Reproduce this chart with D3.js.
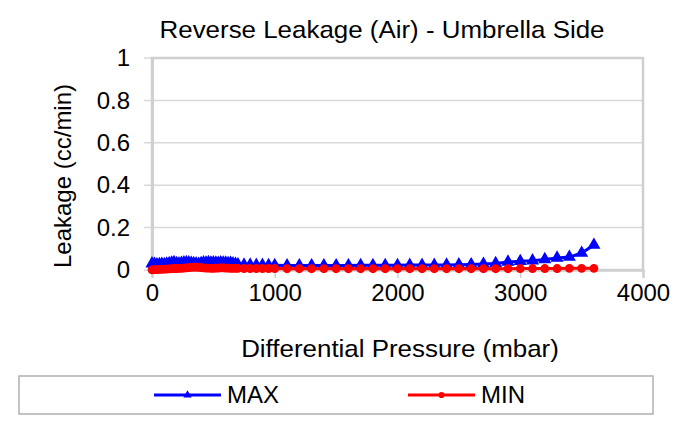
<!DOCTYPE html>
<html>
<head>
<meta charset="utf-8">
<script src="https://cdn.jsdelivr.net/npm/d3@7"></script>
<style>
  body { margin: 0; background: #fff; }
  text { font-family: "Liberation Sans", Arial, sans-serif; fill: #000; }
</style>
</head>
<body>
<div class="chart"></div>
<script>
// pressure steps (mbar): dense 0-700, then 50 up to 1000, then 100 up to 3600
const densePressure = d3.range(0, 701, 20);
const midPressure = [750, 800, 850, 900, 950, 1000];
const sparsePressure = d3.range(1100, 3601, 100);
const pressure = densePressure.concat(midPressure, sparsePressure);

const maxLeak = [
  0.030, 0.028, 0.026, 0.027, 0.028, 0.027, 0.029, 0.031, 0.034, 0.036,
  0.032, 0.030, 0.033, 0.035, 0.036, 0.035, 0.033, 0.031, 0.030, 0.028,
  0.032, 0.035, 0.034, 0.036, 0.034, 0.035, 0.034, 0.033, 0.035, 0.034,
  0.034, 0.032, 0.033, 0.030, 0.028, 0.026,
  0.024, 0.024, 0.023, 0.023, 0.022, 0.022,
  0.021, 0.021, 0.021, 0.021, 0.021, 0.021, 0.022, 0.022, 0.022, 0.022,
  0.023, 0.023, 0.023, 0.024, 0.025, 0.026,
  0.028, 0.031, 0.038, 0.041, 0.044, 0.050, 0.057, 0.061, 0.080, 0.118
];

const minLeak = [
  0.001, 0.002, 0.002, 0.003, 0.003, 0.004, 0.004, 0.005, 0.006, 0.007,
  0.007, 0.008, 0.008, 0.009, 0.010, 0.011, 0.012, 0.013, 0.013, 0.012,
  0.011, 0.010, 0.009, 0.009, 0.008, 0.008, 0.009, 0.009, 0.010, 0.010,
  0.009, 0.009, 0.008, 0.008, 0.008, 0.008,
  0.007, 0.007, 0.007, 0.007, 0.007, 0.007,
  0.006, 0.006, 0.006, 0.006, 0.006, 0.006, 0.006, 0.006, 0.006, 0.006,
  0.006, 0.006, 0.006, 0.006, 0.006, 0.006,
  0.006, 0.006, 0.006, 0.007, 0.007, 0.007, 0.007, 0.008, 0.008, 0.008
];

const xTicks = [0, 1000, 2000, 3000, 4000];
const yTicks = [0, 0.2, 0.4, 0.6, 0.8, 1];

const series = [
  { name: 'MAX', color: '#0000ff', shape: d3.symbolTriangle, size: 48, values: maxLeak },
  { name: 'MIN', color: '#ff0000', shape: d3.symbolCircle, size: 42, values: minLeak }
];

const svgWidth = 689;
const svgHeight = 423;
const margin = { top: 58, right: 46, bottom: 153, left: 152 };
const width = svgWidth - margin.left - margin.right;
const height = svgHeight - margin.top - margin.bottom;
const fontSize = '24px';

const svg = d3.select('.chart').append('svg')
  .attr('width', svgWidth)
  .attr('height', svgHeight);

const xScale = d3.scaleLinear().domain([0, 4000]).range([0, width]);
const yScale = d3.scaleLinear().domain([0, 1]).range([height, 0]);

const g = svg.append('g')
  .attr('transform', `translate(${margin.left}, ${margin.top})`);

// grid
g.append('g')
  .selectAll('line')
  .data(yTicks)
  .enter().append('line')
  .attr('x1', -8)
  .attr('x2', width)
  .attr('y1', (d) => yScale(d))
  .attr('y2', (d) => yScale(d))
  .attr('stroke', '#d9d9d9')
  .attr('stroke-width', 1.5);

// plot border
g.append('rect')
  .attr('width', width)
  .attr('height', height)
  .attr('fill', 'none')
  .attr('stroke', '#cfcfcf')
  .attr('stroke-width', 2.5);

// axes
const yAxis = g.append('g')
  .call(d3.axisLeft(yScale).tickValues(yTicks).tickFormat(d3.format('')).tickSize(0).tickPadding(22));
yAxis.select('.domain').attr('stroke', '#d0d0d0').attr('stroke-width', 3);
yAxis.selectAll('text').style('font-size', fontSize);

const xAxis = g.append('g')
  .attr('transform', `translate(0, ${height})`)
  .call(d3.axisBottom(xScale).tickValues(xTicks).tickFormat(d3.format('')).tickSize(8).tickPadding(6));
xAxis.select('.domain').attr('stroke', '#d0d0d0').attr('stroke-width', 2.5);
xAxis.selectAll('.tick line').attr('stroke', '#d0d0d0').attr('stroke-width', 1.5);
xAxis.selectAll('text').style('font-size', fontSize);

// lines and markers
const line = d3.line()
  .x((d) => xScale(d[0]))
  .y((d) => yScale(d[1]));

series.forEach((s) => {
  const pts = pressure.map((p, i) => [p, s.values[i]]);
  g.append('path')
    .datum(pts)
    .attr('fill', 'none')
    .attr('stroke', s.color)
    .attr('stroke-width', 3)
    .attr('d', line);

  g.append('g')
    .selectAll('path')
    .data(pts)
    .enter().append('path')
    .attr('transform', (d) => `translate(${xScale(d[0])}, ${yScale(d[1])})`)
    .attr('d', d3.symbol().type(s.shape).size(s.size))
    .attr('fill', s.color)
    .attr('stroke', s.color)
    .attr('stroke-width', 1.5);
});

// titles
svg.append('text')
  .attr('transform', 'translate(382, 38) scale(1.08, 1)')
  .attr('text-anchor', 'middle')
  .style('font-size', fontSize)
  .text('Reverse Leakage (Air) - Umbrella Side');

svg.append('text')
  .attr('transform', 'translate(71, 176) rotate(-90)')
  .attr('text-anchor', 'middle')
  .style('font-size', fontSize)
  .text('Leakage (cc/min)');

svg.append('text')
  .attr('transform', 'translate(400, 357) scale(1.08, 1)')
  .attr('text-anchor', 'middle')
  .style('font-size', fontSize)
  .text('Differential Pressure (mbar)');

// legend
svg.append('rect')
  .attr('x', 19)
  .attr('y', 376)
  .attr('width', 634)
  .attr('height', 38)
  .attr('fill', '#fff')
  .attr('stroke', '#b0b0b0')
  .attr('stroke-width', 1.5);

const legendX = [154, 408];
series.forEach((s, i) => {
  const lg = svg.append('g').attr('transform', `translate(${legendX[i]}, 395)`);
  lg.append('line')
    .attr('x1', 0).attr('x2', 67)
    .attr('stroke', s.color).attr('stroke-width', 3);
  lg.append('path')
    .attr('transform', 'translate(33.5, 0)')
    .attr('d', d3.symbol().type(s.shape).size(30))
    .attr('fill', s.color);
  lg.append('text')
    .attr('x', 73)
    .attr('y', 8)
    .style('font-size', fontSize)
    .text(s.name);
});
</script>
</body>
</html>
